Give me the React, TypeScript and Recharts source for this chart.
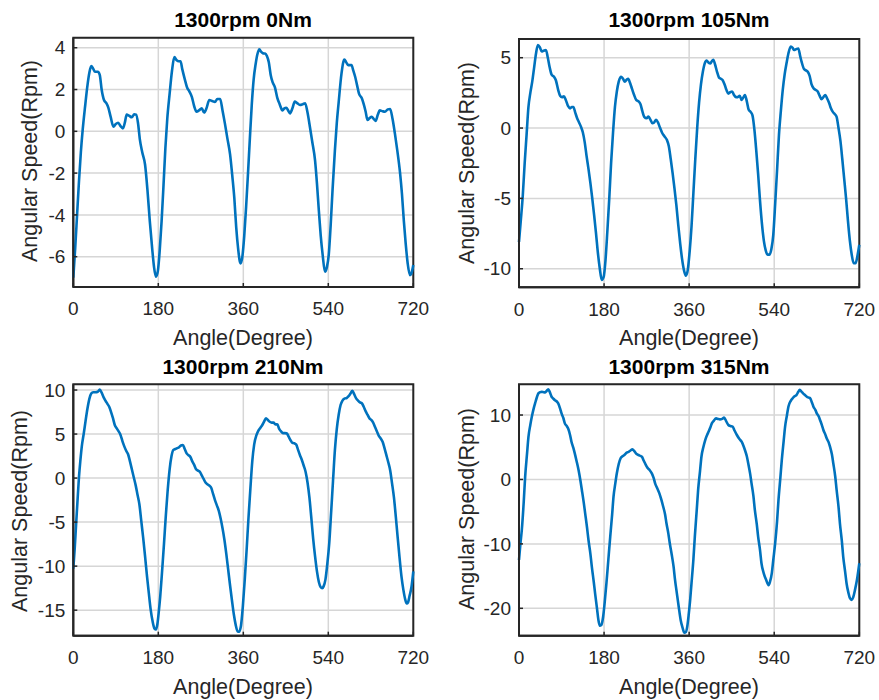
import React from "react";
import { LineChart, Line, XAxis, YAxis, CartesianGrid, ReferenceArea } from "recharts";

// crank angle ticks shared by all four panels
const angleTicks = [0, 180, 360, 540, 720];

const titles = ["1300rpm 0Nm", "1300rpm 105Nm", "1300rpm 210Nm", "1300rpm 315Nm"];

// 0 Nm
const angles0 = [
  0, 4, 8, 12, 16, 20, 25, 30, 34, 38, 42, 46, 52, 56, 60, 65, 70, 74, 79, 85, 90, 95, 100, 105, 109, 113, 118, 124,
  129, 133, 137, 141, 146, 152, 157, 162, 167, 171, 175, 179, 183, 187, 191, 195, 199, 204, 209, 214, 219, 223, 227,
  231, 236, 241, 246, 251, 256, 261, 266, 272, 277, 282, 288, 294, 300, 305, 311, 316, 321, 326, 332, 337, 341, 345,
  349, 354, 358, 362, 366, 370, 374, 378, 382, 386, 390, 394, 398, 402, 406, 410, 414, 418, 422, 427, 432, 437, 443,
  447, 451, 455, 459, 464, 469, 474, 480, 486, 491, 496, 501, 506, 512, 516, 520, 524, 528, 533, 537, 541, 545, 549,
  554, 558, 562, 568, 574, 578, 582, 589, 593, 597, 601, 605, 611, 615, 619, 623, 627, 632, 636, 640, 645, 649, 655,
  660, 666, 671, 676, 681, 686, 692, 696, 700, 704, 708, 713, 716, 720,
];
const speed0 = [
  -7.0, -5.6, -4.0, -2.4, -1.0, 0.1, 1.2, 2.2, 2.8, 3.12, 3.0, 2.85, 2.85, 2.7, 2.0, 1.5, 1.35, 1.15, 0.7, 0.22, 0.35,
  0.41, 0.25, 0.14, 0.4, 0.8, 0.75, 0.67, 0.82, 0.8, 0.4, -0.4, -1.0, -1.6, -2.8, -4.3, -5.6, -6.5, -6.96, -6.7, -5.7,
  -4.3, -2.6, -0.8, 0.6, 1.8, 2.9, 3.55, 3.4, 3.35, 3.35, 2.95, 2.5, 2.1, 1.9, 1.65, 1.2, 0.94, 1.0, 1.1, 0.9, 1.1, 1.5,
  1.45, 1.4, 1.55, 1.55, 1.0, 0.38, -0.3, -1.1, -2.2, -3.2, -4.6, -5.6, -6.32, -6.0, -5.0, -3.6, -2.0, -0.3, 1.3, 2.5,
  3.2, 3.7, 3.92, 3.8, 3.73, 3.72, 3.6, 3.3, 2.7, 2.35, 2.1, 1.6, 1.3, 1.0, 1.1, 1.13, 1.0, 0.86, 1.1, 1.42, 1.35, 1.26,
  1.3, 1.34, 0.9, 0.22, -0.5, -1.4, -2.5, -3.8, -5.0, -5.9, -6.72, -6.5, -5.9, -4.5, -2.8, -0.9, 0.4, 1.4, 2.77, 3.44,
  3.3, 3.17, 3.17, 2.9, 2.6, 2.2, 1.8, 1.58, 1.3, 0.95, 0.54, 0.62, 0.7, 0.6, 0.5, 0.8, 1.0, 0.96, 0.94, 1.05, 1.07,
  0.6, -0.1, -0.9, -2.0, -3.0, -4.3, -5.4, -6.3, -6.88, -6.8, -6.4,
];

// 105 Nm
const angles105 = [
  0, 4, 8, 12, 16, 20, 24, 28, 32, 36, 40, 44, 48, 52, 57, 61, 65, 69, 74, 78, 83, 87, 91, 95, 99, 104, 108, 112, 115,
  119, 123, 127, 131, 135, 139, 143, 147, 151, 155, 159, 163, 167, 171, 175, 179, 183, 187, 191, 195, 199, 203, 207,
  211, 216, 220, 224, 228, 231, 235, 239, 243, 248, 253, 257, 261, 265, 270, 274, 278, 282, 286, 290, 294, 298, 303,
  308, 313, 317, 321, 325, 329, 333, 337, 341, 345, 349, 353, 357, 361, 365, 369, 373, 377, 381, 385, 389, 393, 397,
  401, 405, 408, 411, 415, 419, 423, 427, 431, 435, 439, 443, 447, 451, 455, 459, 463, 467, 471, 475, 478, 482, 486,
  490, 494, 498, 502, 506, 510, 514, 518, 522, 526, 530, 534, 538, 542, 546, 550, 554, 558, 562, 566, 570, 575, 579,
  582, 586, 591, 595, 598, 603, 607, 611, 615, 619, 624, 628, 632, 636, 640, 644, 648, 652, 656, 660, 664, 668, 672,
  676, 680, 684, 688, 692, 696, 700, 704, 708, 712, 716, 720,
];
const speed105 = [
  -8.1, -6.5, -4.8, -2.5, -0.5, 1.5, 2.5, 3.3, 4.3, 5.3, 5.9, 5.75, 5.45, 5.5, 5.55, 5.0, 4.3, 3.8, 3.65, 3.4, 2.7, 2.3,
  2.2, 2.25, 2.0, 1.55, 1.4, 1.5, 1.5, 1.1, 0.7, 0.4, 0.1, -0.3, -1.0, -2.0, -2.9, -3.9, -5.0, -6.2, -7.5, -8.9, -10.0,
  -10.8, -10.6, -9.4, -7.3, -5.0, -2.4, -0.3, 1.5, 2.6, 3.3, 3.65, 3.5, 3.3, 3.45, 3.5, 3.2, 2.8, 2.4, 2.0, 1.9, 1.7,
  1.2, 0.8, 0.7, 0.82, 0.6, 0.35, 0.4, 0.58, 0.4, 0.05, -0.35, -0.6, -0.85, -1.3, -2.2, -3.2, -4.3, -5.5, -6.9, -8.2,
  -9.3, -10.1, -10.5, -10.1, -8.8, -7.0, -4.6, -2.2, 0.0, 1.8, 3.1, 4.0, 4.6, 4.8, 4.65, 4.6, 4.75, 4.85, 4.5, 4.0,
  3.6, 3.5, 3.4, 3.1, 2.7, 2.45, 2.55, 2.6, 2.35, 2.2, 2.2, 2.3, 2.0, 2.2, 2.35, 1.9, 1.3, 1.15, 0.9, -0.1, -1.6, -3.3,
  -5.2, -6.8, -8.0, -8.7, -9.0, -9.0, -8.6, -7.6, -5.4, -3.0, -0.5, 1.2, 2.7, 3.8, 4.6, 5.3, 5.8, 5.7, 5.55, 5.6, 5.66,
  5.1, 4.7, 4.2, 4.1, 4.0, 3.7, 3.1, 2.8, 2.7, 2.6, 2.3, 2.05, 2.2, 2.35, 2.1, 1.8, 1.4, 1.15, 1.0, 0.8, 0.0, -0.9,
  -2.2, -3.6, -5.0, -6.6, -8.0, -9.0, -9.6, -9.6, -9.1, -8.3,
];

// 210 Nm
const angles210 = [
  0, 3, 6, 9, 12, 15, 18, 22, 26, 30, 34, 38, 42, 47, 52, 56, 60, 64, 68, 72, 76, 80, 84, 88, 92, 96, 100, 104, 108,
  112, 116, 120, 124, 128, 132, 136, 140, 144, 148, 152, 156, 160, 164, 168, 172, 175, 178, 181, 184, 188, 192, 196,
  200, 204, 208, 212, 216, 220, 224, 228, 232, 236, 240, 244, 248, 252, 256, 260, 264, 268, 272, 276, 280, 284, 288,
  292, 296, 300, 304, 308, 312, 316, 320, 324, 328, 332, 336, 340, 344, 348, 351, 355, 359, 363, 367, 371, 375, 379,
  383, 388, 392, 396, 400, 404, 408, 412, 416, 420, 424, 428, 432, 436, 440, 444, 448, 452, 456, 460, 464, 468, 472,
  476, 480, 484, 488, 492, 496, 500, 504, 508, 512, 516, 520, 524, 527, 530, 534, 538, 542, 546, 550, 554, 558, 562,
  566, 570, 575, 579, 583, 587, 591, 595, 599, 603, 607, 611, 615, 619, 623, 627, 631, 635, 639, 643, 647, 651, 655,
  659, 663, 667, 671, 675, 679, 683, 687, 691, 695, 699, 703, 706, 709, 712, 716, 720,
];
const speed210 = [
  -10.3, -8.0, -5.2, -2.5, 0.1, 2.0, 3.6, 5.0, 6.5, 7.9, 9.0, 9.6, 9.75, 9.75, 9.8, 10.05, 9.7, 9.2, 8.8, 8.45, 8.1,
  7.5, 6.8, 6.0, 5.64, 5.3, 4.9, 4.2, 3.6, 3.1, 2.7, 1.9, 1.0, 0.1, -0.8, -1.9, -3.0, -4.9, -6.8, -8.9, -11.1, -13.1,
  -15.0, -16.3, -17.1, -17.2, -16.6, -15.2, -13.5, -10.6, -7.5, -4.2, -1.3, 1.0, 2.5, 3.2, 3.3, 3.4, 3.5, 3.7, 3.75,
  3.3, 2.8, 2.6, 2.4, 1.9, 1.5, 1.0, 0.85, 0.72, 0.3, -0.1, -0.5, -0.7, -0.85, -1.1, -1.8, -2.5, -3.1, -3.7, -4.6,
  -5.7, -7.0, -8.6, -10.4, -12.2, -13.9, -15.5, -16.7, -17.4, -17.45, -16.8, -14.6, -11.6, -8.2, -4.5, -1.2, 1.9, 3.8,
  4.9, 5.4, 5.7, 6.0, 6.4, 6.8, 6.6, 6.4, 6.3, 6.3, 6.1, 6.1, 5.6, 5.3, 5.1, 5.1, 5.08, 4.7, 4.3, 4.0, 3.95, 3.8, 3.2,
  2.6, 2.05, 1.4, 0.7, -0.5, -2.2, -4.5, -6.9, -8.9, -10.6, -11.8, -12.4, -12.5, -12.3, -11.5, -9.7, -7.4, -3.9, -0.3,
  3.2, 5.6, 7.2, 8.3, 8.8, 9.05, 9.1, 9.3, 9.6, 9.92, 9.5, 9.05, 8.8, 8.6, 8.5, 8.1, 7.6, 7.2, 6.8, 6.6, 6.3, 5.8, 5.3,
  4.8, 4.5, 4.13, 3.4, 2.6, 1.8, 0.9, -0.6, -2.2, -4.4, -6.8, -9.1, -11.2, -12.7, -13.8, -14.24, -14.1, -13.4, -12.4,
  -10.6,
];

// 315 Nm
const angles315 = [
  0, 3, 6, 10, 13, 17, 20, 24, 27, 31, 34, 38, 41, 45, 48, 52, 55, 58, 62, 65, 69, 72, 76, 80, 83, 87, 90, 94, 97, 101,
  104, 108, 111, 115, 118, 122, 126, 130, 133, 137, 140, 144, 147, 151, 154, 158, 161, 165, 168, 171, 174, 178, 181,
  185, 189, 193, 197, 200, 204, 207, 211, 215, 219, 223, 228, 232, 236, 240, 244, 249, 253, 257, 260, 264, 268, 272,
  276, 281, 285, 288, 292, 297, 301, 305, 309, 312, 316, 319, 323, 327, 330, 334, 338, 342, 346, 350, 353, 356, 359,
  362, 365, 369, 372, 376, 379, 383, 386, 390, 394, 398, 401, 405, 408, 412, 417, 421, 425, 430, 434, 438, 443, 447,
  452, 456, 461, 466, 471, 475, 478, 482, 485, 489, 492, 496, 499, 503, 506, 510, 513, 518, 523, 528, 531, 535, 538,
  542, 546, 549, 553, 556, 560, 563, 567, 570, 575, 579, 583, 587, 591, 594, 598, 601, 605, 609, 613, 616, 620, 623,
  627, 630, 634, 637, 641, 644, 648, 651, 655, 658, 662, 665, 669, 672, 676, 679, 683, 686, 690, 693, 697, 700, 704,
  707, 711, 715, 720,
];
const speed315 = [
  -12.5, -10.0, -7.8, -3.5, 0.4, 4.0, 6.6, 8.5, 9.7, 11.0, 11.8, 12.8, 13.36, 13.55, 13.6, 13.55, 13.5, 13.7, 14.0,
  13.6, 12.84, 12.6, 12.3, 12.1, 11.8, 11.0, 10.26, 9.5, 8.7, 8.3, 7.9, 6.9, 5.86, 4.9, 4.05, 2.8, 1.47, -0.2, -1.63,
  -3.6, -5.26, -7.5, -9.4, -11.5, -13.5, -15.8, -17.67, -20.0, -21.8, -22.7, -22.6, -21.3, -19.3, -16.1, -12.5, -8.9,
  -5.5, -2.67, -0.5, 0.95, 2.4, 3.3, 3.6, 3.8, 4.16, 4.3, 4.5, 4.68, 4.4, 3.95, 3.8, 3.65, 3.53, 2.9, 2.3, 1.8, 1.5,
  0.95, 0.2, -0.6, -1.3, -2.15, -3.1, -4.2, -5.4, -6.8, -8.4, -9.9, -11.6, -13.5, -15.5, -17.67, -19.8, -21.8, -23.0,
  -23.8, -23.7, -22.8, -21.0, -18.8, -16.1, -12.4, -8.9, -4.8, -1.63, 1.3, 3.53, 5.0, 6.12, 6.9, 7.4, 8.1, 8.7, 9.1,
  9.48, 9.4, 9.33, 9.4, 9.59, 9.1, 8.45, 8.3, 8.2, 7.6, 6.9, 6.3, 5.86, 5.2, 4.57, 3.6, 2.5, 0.9, -0.6, -2.6, -4.73,
  -6.9, -8.9, -11.0, -13.0, -14.6, -15.6, -16.4, -15.9, -14.5, -12.5, -9.9, -6.5, -3.2, 0.3, 3.0, 6.0, 8.2, 10.0, 11.3,
  12.2, 12.6, 12.9, 13.1, 13.6, 13.9, 13.6, 13.36, 13.1, 12.84, 12.7, 12.6, 11.9, 11.3, 10.8, 10.26, 9.8, 9.22, 8.4,
  7.67, 7.0, 6.38, 5.8, 5.1, 3.9, 2.5, 0.5, -1.63, -4.2, -6.8, -9.5, -12.0, -14.3, -16.1, -17.6, -18.4, -18.7, -18.3,
  -17.1, -15.6, -13.0,
];

const yTicks0 = [-6, -4, -2, 0, 2, 4];
const yTicks105 = [-10, -5, 0, 5];
const yTicks210 = [-15, -10, -5, 0, 5, 10];
const yTicks315 = [-20, -10, 0, 10];

const FONT = '"Liberation Sans", Arial, Helvetica, sans-serif';
const INK = "#262626";
const BLUE = "#0072BD";

const toRows = (angles: number[], speeds: number[]) =>
  angles.map((a, i) => ({ angle: a, speed: speeds[i] }));

type PanelProps = {
  title: string;
  rows: { angle: number; speed: number }[];
  yDomain: [number, number];
  yTicks: number[];
  left: number;
  top: number;
  width: number;
  margin: { top: number; right: number; bottom: number; left: number };
  titleX: number;
  titleY: number;
  yLabelX: number;
  yLabelY: number;
  xLabelY: number;
};

function Panel(p: PanelProps) {
  const tickStyle = { fill: INK, fontSize: 19, fontFamily: FONT };
  const boxLine = { stroke: INK, strokeWidth: 2 };
  const tickLine = { stroke: INK, strokeWidth: 1.5 };
  return (
    <>
      <div
        style={{
          position: "absolute",
          left: p.titleX,
          top: p.titleY,
          transform: "translate(-50%, -50%)",
          fontFamily: FONT,
          fontWeight: "bold",
          fontSize: 21,
          color: "#000",
          whiteSpace: "nowrap",
        }}
      >
        {p.title}
      </div>
      <div
        style={{
          position: "absolute",
          left: p.yLabelX,
          top: p.yLabelY,
          transform: "translate(-50%, -50%) rotate(-90deg)",
          fontFamily: FONT,
          fontSize: 21.5,
          color: INK,
          whiteSpace: "nowrap",
        }}
      >
        Angular Speed(Rpm)
      </div>
      <div
        style={{
          position: "absolute",
          left: p.titleX,
          top: p.xLabelY,
          transform: "translate(-50%, -50%)",
          fontFamily: FONT,
          fontSize: 21.5,
          color: INK,
          whiteSpace: "nowrap",
        }}
      >
        Angle(Degree)
      </div>
      <div style={{ position: "absolute", left: p.left, top: p.top }}>
        <LineChart width={p.width} height={350} data={p.rows} margin={p.margin}>
          <CartesianGrid stroke="#d6d6d6" strokeWidth={1.5} />
          <XAxis
            dataKey="angle"
            type="number"
            domain={[0, 720]}
            ticks={angleTicks}
            interval={0}
            height={30}
            axisLine={boxLine}
            tickLine={tickLine}
            tickSize={-4}
            tickMargin={19}
            tick={tickStyle}
          />
          <YAxis
            type="number"
            domain={p.yDomain}
            ticks={p.yTicks}
            interval={0}
            width={40}
            allowDataOverflow
            axisLine={boxLine}
            tickLine={tickLine}
            tickSize={-4}
            tickMargin={12}
            tick={tickStyle}
          />
          <Line
            dataKey="speed"
            type="monotone"
            stroke={BLUE}
            strokeWidth={2.6}
            dot={false}
            isAnimationActive={false}
          />
          {/* full axes box, MATLAB style */}
          <ReferenceArea
            x1={0}
            x2={720}
            y1={p.yDomain[0]}
            y2={p.yDomain[1]}
            fill="none"
            fillOpacity={0}
            stroke={INK}
            strokeWidth={2}
            ifOverflow="visible"
          />
        </LineChart>
      </div>
    </>
  );
}

export default function App() {
  return (
    <div
      style={{
        position: "absolute",
        left: 0,
        top: 0,
        width: 879,
        height: 700,
        background: "#fff",
        overflow: "hidden",
      }}
    >
      <Panel
        title={titles[0]}
        rows={toRows(angles0, speed0)}
        yDomain={[-7.45, 4.48]}
        yTicks={yTicks0}
        left={0}
        top={0}
        width={440}
        margin={{ top: 37.7, right: 26.7, bottom: 33, left: 33.3 }}
        titleX={243}
        titleY={20}
        yLabelX={30}
        yLabelY={161}
        xLabelY={338}
      />
      <Panel
        title={titles[1]}
        rows={toRows(angles105, speed105)}
        yDomain={[-11.32, 6.33]}
        yTicks={yTicks105}
        left={440}
        top={0}
        width={439}
        margin={{ top: 39, right: 19.7, bottom: 32.7, left: 39 }}
        titleX={689}
        titleY={20}
        yLabelX={467}
        yLabelY={163}
        xLabelY={338}
      />
      <Panel
        title={titles[2]}
        rows={toRows(angles210, speed210)}
        yDomain={[-17.9, 10.65]}
        yTicks={yTicks210}
        left={0}
        top={350}
        width={440}
        margin={{ top: 34.3, right: 26.7, bottom: 34.3, left: 33.3 }}
        titleX={243}
        titleY={367}
        yLabelX={20}
        yLabelY={511}
        xLabelY={687}
      />
      <Panel
        title={titles[3]}
        rows={toRows(angles315, speed315)}
        yDomain={[-24.25, 14.77]}
        yTicks={yTicks315}
        left={440}
        top={350}
        width={439}
        margin={{ top: 34.3, right: 19.7, bottom: 34.3, left: 39 }}
        titleX={689}
        titleY={367}
        yLabelX={467}
        yLabelY={509}
        xLabelY={687}
      />
    </div>
  );
}
